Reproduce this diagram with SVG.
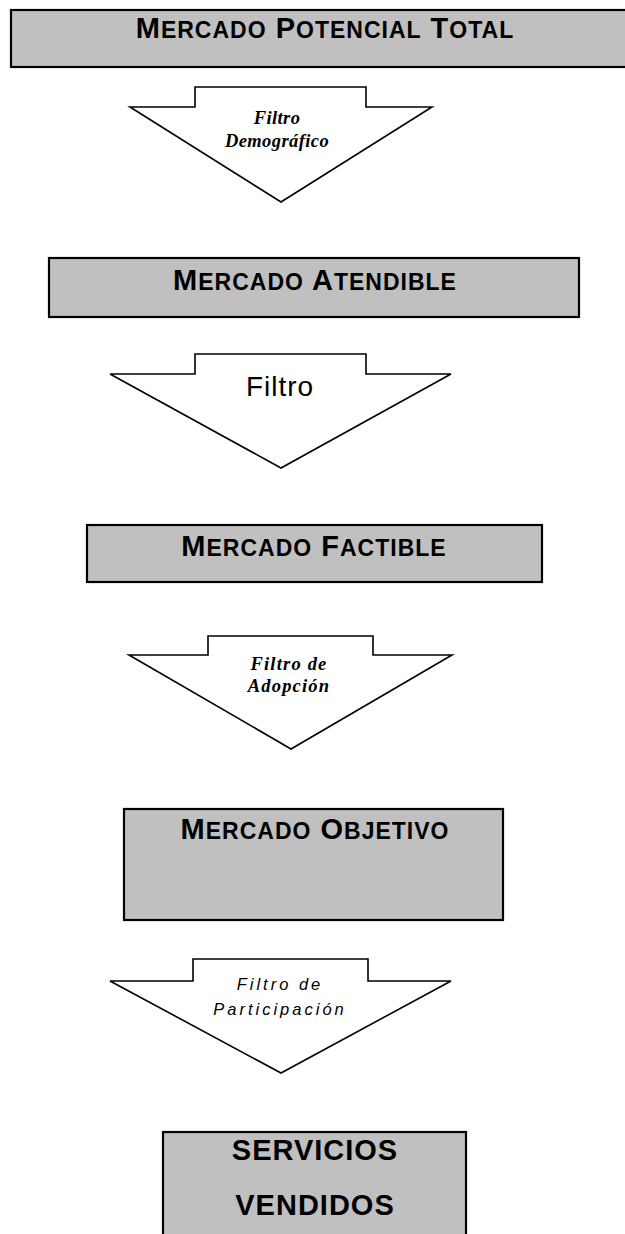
<svg xmlns="http://www.w3.org/2000/svg" width="625" height="1234" viewBox="0 0 625 1234">
<style>
.box{fill:#c0c0c0;stroke:#000;stroke-width:2.2}
.arr{fill:#fff;stroke:#000;stroke-width:1.6;stroke-linejoin:miter}
.bt{font-family:"Liberation Sans",Arial,sans-serif;font-weight:bold;font-size:29px;letter-spacing:1px;fill:#000;text-anchor:middle}
.sc{font-size:23px}
.tb{font-family:"Liberation Serif","Times New Roman",serif;font-weight:bold;font-style:italic;font-size:18.5px;fill:#000;text-anchor:middle}
.ar{font-family:"Liberation Sans",Arial,sans-serif;fill:#000;text-anchor:middle}
</style>
<rect width="625" height="1234" fill="#fff"/>
<g id="connectors">
<polygon id="filtro-demografico" class="arr" points="195,87 366,87 366,107 432,107 281,202 130,107 195,107"/>
<polygon id="filtro" class="arr" points="195,354 366,354 366,374 451,374 281,468 110,374 195,374"/>
<polygon id="filtro-adopcion" class="arr" points="208,636 373,636 373,655 452,655 291,749 129,655 208,655"/>
<polygon id="filtro-participacion" class="arr" points="193,959 368,959 368,981 451,981 281,1073 110,981 193,981"/>
<text class="tb" x="277" y="124" letter-spacing="0.4">Filtro</text>
<text class="tb" x="277" y="147" letter-spacing="0.4">Demográfico</text>
<text class="ar" x="280" y="396" font-size="28" letter-spacing="1">Filtro</text>
<text class="tb" x="289" y="670" letter-spacing="1.2">Filtro de</text>
<text class="tb" x="289" y="692" letter-spacing="1.2">Adopción</text>
<text class="ar" x="280" y="990" font-size="16.5" font-style="italic" letter-spacing="3">Filtro de</text>
<text class="ar" x="280" y="1015" font-size="16.5" font-style="italic" letter-spacing="3">Participación</text>
</g>
<g id="mercado-potencial-total">
<rect class="box" x="11" y="10" width="640" height="57"/>
<text class="bt" x="325" y="38">M<tspan class="sc">ERCADO</tspan> P<tspan class="sc">OTENCIAL</tspan> T<tspan class="sc">OTAL</tspan></text>
</g>
<g id="mercado-atendible">
<rect class="box" x="49" y="258" width="530" height="59"/>
<text class="bt" x="315" y="290">M<tspan class="sc">ERCADO</tspan> A<tspan class="sc">TENDIBLE</tspan></text>
</g>
<g id="mercado-factible">
<rect class="box" x="87" y="525" width="455" height="57"/>
<text class="bt" x="314" y="556">M<tspan class="sc">ERCADO</tspan> F<tspan class="sc">ACTIBLE</tspan></text>
</g>
<g id="mercado-objetivo">
<rect class="box" x="124" y="809" width="379" height="111"/>
<text class="bt" x="315" y="839">M<tspan class="sc">ERCADO</tspan> O<tspan class="sc">BJETIVO</tspan></text>
</g>
<g id="servicios-vendidos">
<rect class="box" x="163" y="1132" width="303" height="120"/>
<text class="bt" x="315" y="1160">SERVICIOS</text>
<text class="bt" x="315" y="1215">VENDIDOS</text>
</g>
</svg>
